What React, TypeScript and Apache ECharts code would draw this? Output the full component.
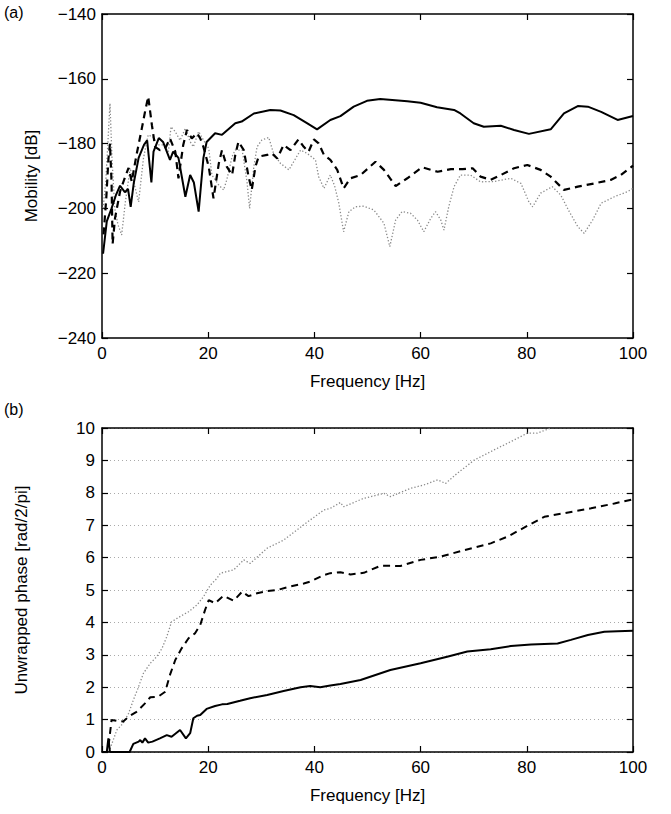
import React, { useEffect, useRef } from "react";
import * as echarts from "echarts";

// ---------- Panel (a): mobility [dB] ----------
const aSolidHz = [0.2, 0.9, 1.8, 2.6, 3.4, 4.3, 4.9, 5.4, 6.0, 6.9, 7.9, 8.5, 9.3, 9.7, 10.7, 11.5, 12.8, 13.4, 14.4, 15.7, 16.6, 17.3, 18.2, 19.1, 19.7, 21.3, 22.6, 25.1, 26.3, 28.6, 31.7, 33.6, 36.1, 38.6, 40.5, 43, 44.9, 47.4, 49.9, 52.4, 57.5, 60, 63.1, 66.3, 67.5, 70, 71.9, 75.1, 77.6, 80.4, 84.5, 87, 89.6, 91.5, 94, 97.1, 100];
const aSolidDb = [-214, -204, -200, -196, -193, -195, -194, -199.5, -192, -184.4, -180.4, -179, -192, -182.5, -178.3, -179.5, -185, -182.5, -184.4, -196.4, -189.7, -192, -201, -184.4, -179.5, -176.8, -177.3, -173.7, -173.2, -170.7, -169.6, -169.8, -171.2, -173.7, -175.6, -172.7, -171.5, -168.6, -166.8, -166.2, -166.9, -167.4, -168.8, -169.6, -170.7, -173.7, -174.8, -174.5, -175.8, -177, -175.6, -170.7, -168.4, -168.6, -170.2, -172.7, -171.5];

const aDashHz = [0.3, 0.8, 1.2, 1.5, 1.8, 2.0, 2.45, 3.4, 4.2, 5.0, 5.6, 6.5, 7.5, 8.1, 8.7, 9.4, 10.0, 10.9, 11.9, 12.8, 13.8, 14.4, 15.3, 16.0, 16.9, 17.9, 18.5, 19.1, 20.1, 21.0, 22.0, 22.6, 23.5, 24.5, 25.1, 25.7, 26.7, 27.6, 28.2, 28.9, 29.5, 31.1, 32.0, 33.0, 34.2, 35.5, 37.0, 38.0, 38.9, 39.9, 40.8, 41.8, 43.0, 44.3, 45.5, 46.8, 48.7, 51.5, 53.1, 55.3, 57.5, 60.3, 63.2, 65.7, 67.9, 69.8, 71.3, 73.2, 75.1, 77.6, 80.1, 82.6, 84.5, 87.0, 89.6, 92.7, 95.8, 97.7, 100];
const aDashDb = [-208, -197, -185, -180, -192, -211, -203, -194.8, -191, -187.5, -191.7, -183.5, -175.3, -170.2, -165.5, -174.3, -181, -182, -181.5, -178.4, -182.5, -190.7, -180.4, -175.8, -178.4, -176.8, -178.4, -181, -187.1, -196.9, -186.1, -182, -187.1, -189.7, -183.5, -179.4, -182, -190.2, -194.3, -187.1, -184, -183.5, -183, -184.6, -180.4, -182, -178.7, -181, -182.5, -178.7, -179.9, -183.5, -185, -188.1, -193.8, -190.7, -189.7, -185.6, -188.1, -193.1, -190.7, -187.3, -188.7, -187.9, -187.9, -187.6, -190.2, -191.2, -189.7, -187.6, -186.6, -188.1, -190.2, -194.3, -193.3, -192.3, -191.2, -189.7, -186.8];

const aDotHz = [0.2, 0.7, 1.1, 1.5, 1.9, 2.4, 3.0, 3.7, 4.4, 5.3, 6.0, 6.9, 7.8, 8.7, 9.6, 10.6, 11.5, 12.5, 13.0, 13.8, 14.7, 15.7, 16.6, 17.2, 18.2, 19.1, 20.1, 20.7, 22.0, 22.9, 23.5, 24.5, 25.1, 26.4, 27.3, 27.8, 28.6, 29.2, 30.1, 31.4, 32.3, 33.6, 35.2, 36.1, 37.4, 38.6, 40.2, 40.8, 41.8, 43.0, 43.8, 44.6, 45.5, 46.5, 47.7, 49.3, 51.2, 53.1, 54.2, 55.3, 56.5, 58.1, 59.4, 60.6, 61.9, 62.8, 63.8, 64.4, 65.3, 66.3, 67.5, 69.4, 71.3, 73.8, 77.0, 78.9, 80.4, 81.1, 82.6, 84.8, 86.4, 88.0, 89.6, 90.8, 92.4, 94.0, 96.5, 99.0, 100];
const aDotDb = [-200, -192, -180, -167.6, -185, -200, -205, -208.2, -198, -187.6, -192, -198, -184.6, -177.3, -178, -180.4, -180.4, -182.5, -174.8, -176.3, -179, -175.3, -179.4, -181, -176.3, -178.9, -181.5, -189.7, -192.8, -194.3, -191.2, -184, -182, -182, -191.7, -200, -187.1, -181, -178.9, -178.1, -183, -186.1, -188.1, -185.6, -182, -183, -185, -190.2, -193.8, -189.7, -193, -198.4, -207.2, -201, -199.5, -199.3, -200.5, -204.6, -211.8, -203.6, -201, -201.5, -203.6, -207.2, -203.1, -201, -203.6, -206.7, -199.5, -193.3, -189.7, -189.7, -191.8, -191.7, -190.7, -192.3, -198, -199.5, -195.3, -193.3, -195.9, -201, -205.6, -207.7, -203.6, -198.4, -196.4, -194.8, -193.8];

// ---------- Panel (b): unwrapped phase ----------
const bSolidHz = [0, 0.9, 1.2, 1.5, 5.2, 5.9, 6.9, 7.2, 7.6, 8.1, 8.7, 9.5, 10.9, 12.2, 13.1, 14.7, 15.8, 16.6, 17.2, 17.9, 18.5, 19.7, 21.3, 22.6, 23.6, 26.0, 27.9, 31.1, 34.2, 37.4, 39.2, 41.1, 43.0, 44.9, 48.7, 54.3, 60.0, 65.0, 68.8, 73.2, 77.0, 80.8, 85.8, 88.3, 91.5, 94.6, 97.1, 100];
const bSolidPh = [0, 0, 0.42, 0, 0, 0.25, 0.32, 0.37, 0.29, 0.42, 0.29, 0.32, 0.42, 0.52, 0.47, 0.68, 0.42, 0.58, 1.04, 1.12, 1.14, 1.33, 1.42, 1.47, 1.48, 1.58, 1.66, 1.76, 1.88, 2.0, 2.04, 2.0, 2.05, 2.1, 2.22, 2.53, 2.74, 2.94, 3.1, 3.17, 3.27, 3.32, 3.35, 3.46, 3.61, 3.71, 3.73, 3.74];

const bDashHz = [0, 1.1, 1.8, 2.8, 4.0, 5.0, 6.5, 8.1, 9.1, 10.6, 11.9, 12.8, 13.8, 15.0, 16.3, 17.5, 18.5, 19.4, 20.1, 21.3, 22.3, 22.9, 24.8, 26.4, 27.6, 29.2, 31.1, 33.0, 35.5, 38.0, 39.2, 41.8, 43.0, 44.9, 46.8, 49.3, 52.5, 56.2, 60.0, 63.8, 68.2, 73.2, 76.4, 80.1, 83.3, 87.0, 92.1, 96.5, 100];
const bDashPh = [0, 0, 0.99, 0.96, 0.94, 1.09, 1.24, 1.5, 1.69, 1.71, 1.86, 2.38, 2.84, 3.2, 3.51, 3.66, 3.92, 4.38, 4.69, 4.59, 4.74, 4.82, 4.67, 4.95, 4.81, 4.9, 4.97, 5.0, 5.11, 5.2, 5.26, 5.46, 5.52, 5.55, 5.48, 5.53, 5.75, 5.74, 5.93, 6.03, 6.23, 6.44, 6.65, 6.98, 7.26, 7.37, 7.52, 7.67, 7.8];

const bDotHz = [1.3, 2.8, 4.0, 5.0, 5.9, 6.9, 7.8, 9.1, 10.3, 11.3, 12.2, 13.1, 14.7, 16.3, 17.9, 19.1, 20.4, 21.6, 22.3, 24.8, 26.7, 27.9, 31.1, 34.2, 36.7, 39.2, 41.8, 43.0, 44.9, 45.5, 49.3, 53.1, 54.3, 58.1, 60.6, 63.2, 64.7, 66.9, 70.1, 73.8, 77.6, 80.1, 82.0, 84.5];
const bDotPh = [0, 0.68, 0.89, 1.19, 1.6, 2.02, 2.43, 2.74, 2.94, 3.2, 3.56, 4.02, 4.18, 4.33, 4.54, 4.79, 5.15, 5.35, 5.52, 5.62, 5.93, 5.82, 6.29, 6.54, 6.85, 7.16, 7.47, 7.52, 7.7, 7.57, 7.83, 7.98, 7.88, 8.14, 8.24, 8.4, 8.29, 8.6, 9.01, 9.32, 9.63, 9.84, 9.84, 10.0];

const pair = (xs: number[], ys: number[]) => xs.map((x, i) => [x, ys[i]]);

const FONT = "'Liberation Sans', Arial, Helvetica, sans-serif";
const FS = 17;

export default function App() {
  const ref = useRef<HTMLDivElement>(null);

  useEffect(() => {
    if (!ref.current) return;
    const chart = echarts.init(ref.current, undefined, { renderer: "svg" });

    const axisLine = { show: true, onZero: false, lineStyle: { color: "#000", width: 1.5 } };
    const tick = { show: true, inside: true, length: 6, lineStyle: { color: "#000", width: 1.2 } };
    const label = { color: "#000", fontSize: FS, fontFamily: FONT };
    const nameStyle = { color: "#000", fontSize: FS, fontFamily: FONT };
    const minusFmt = (v: number) => (v < 0 ? "\u2212" + Math.abs(v) : String(v));

    const xBottom = (grid: number) => ({
      type: "value", gridIndex: grid, position: "bottom", min: 0, max: 100, interval: 20,
      axisLine, axisTick: tick, axisLabel: { ...label, margin: 7 }, splitLine: { show: false },
      name: "Frequency [Hz]", nameLocation: "middle", nameGap: 35, nameTextStyle: nameStyle,
    });
    const xTop = (grid: number) => ({
      type: "value", gridIndex: grid, position: "top", min: 0, max: 100, interval: 20,
      axisLine, axisTick: tick, axisLabel: { show: false }, splitLine: { show: false },
    });

    const solid = { color: "#000", width: 2, type: "solid" };
    const dashed = { color: "#000", width: 2.2, type: [7, 5] };
    const dotted = { color: "#8a8a8a", width: 1.3, type: [1.3, 2] };

    const line = (data: number[][], xi: number, yi: number, ls: any) => ({
      type: "line", xAxisIndex: xi, yAxisIndex: yi, data, showSymbol: false, symbol: "none",
      lineStyle: ls, silent: true, z: 3,
    });

    chart.setOption({
      animation: false,
      backgroundColor: "#fff",
      textStyle: { fontFamily: FONT },
      grid: [
        { left: 102, top: 14, width: 531, height: 324, containLabel: false },
        { left: 102, top: 428, width: 531, height: 324, containLabel: false },
      ],
      xAxis: [xBottom(0), xTop(0), xBottom(1), xTop(1)],
      yAxis: [
        {
          type: "value", gridIndex: 0, position: "left", min: -240, max: -140, interval: 20,
          axisLine, axisTick: tick, axisLabel: { ...label, margin: 6, formatter: minusFmt },
          splitLine: { show: false },
          name: "Mobility [dB]", nameLocation: "middle", nameGap: 62, nameTextStyle: nameStyle,
        },
        {
          type: "value", gridIndex: 0, position: "right", min: -240, max: -140, interval: 20,
          axisLine, axisTick: tick, axisLabel: { show: false }, splitLine: { show: false },
        },
        {
          type: "value", gridIndex: 1, position: "left", min: 0, max: 10, interval: 1,
          axisLine, axisTick: tick, axisLabel: { ...label, margin: 7 },
          splitLine: { show: true, lineStyle: { color: "#aaa", width: 1, type: [1, 3] } },
          name: "Unwrapped phase [rad/2/pi]", nameLocation: "middle", nameGap: 72, nameTextStyle: nameStyle,
        },
        {
          type: "value", gridIndex: 1, position: "right", min: 0, max: 10, interval: 1,
          axisLine, axisTick: tick, axisLabel: { show: false }, splitLine: { show: false },
        },
      ],
      graphic: [
        { type: "text", left: 4, top: 4, style: { text: "(a)", fontSize: 16, fontFamily: FONT, fill: "#000" } },
        { type: "text", left: 4, top: 401, style: { text: "(b)", fontSize: 16, fontFamily: FONT, fill: "#000" } },
      ],
      series: [
        line(pair(aDotHz, aDotDb), 0, 0, dotted),
        line(pair(aDashHz, aDashDb), 0, 0, dashed),
        line(pair(aSolidHz, aSolidDb), 0, 0, solid),
        line(pair(bDotHz, bDotPh), 2, 2, dotted),
        line(pair(bDashHz, bDashPh), 2, 2, { ...dashed, width: 2 }),
        line(pair(bSolidHz, bSolidPh), 2, 2, solid),
      ],
    });

    return () => chart.dispose();
  }, []);

  return (
    <div
      ref={ref}
      style={{ position: "fixed", left: 0, top: 0, width: 671, height: 814, background: "#fff" }}
    />
  );
}
